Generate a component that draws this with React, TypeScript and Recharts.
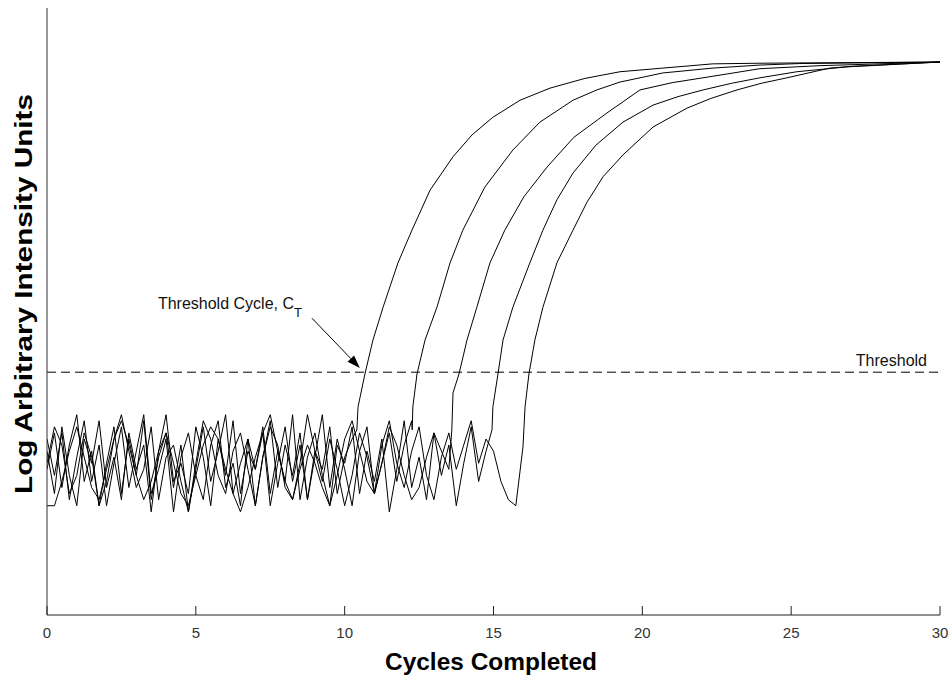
import { LineChart, Line, XAxis, YAxis, ReferenceLine } from "recharts";

// baseline noise is sampled every quarter cycle, then the amplification curve takes over
const NOISE_STEP = 0.25;
const X_TICKS = [0, 5, 10, 15, 20, 25, 30];
const THRESHOLD = 40;

const NOISE_A = [24, 30, 21, 28, 33, 22, 27, 18, 25, 31, 20, 29, 23, 32, 19, 26, 30, 21, 28, 17, 24, 31, 22, 27, 33, 20, 25, 29, 18, 26, 32, 21, 28, 23, 30, 19, 27, 24, 31, 20, 26, 29];
const NOISE_B = [27, 20, 31, 23, 18, 29, 25, 32, 21, 26, 19, 30, 24, 28, 17, 27, 33, 22, 25, 20, 31, 26, 18, 29, 23, 32, 20, 27, 24, 30, 18, 25, 31, 22, 28, 19, 26, 33, 21, 29, 24, 18, 27, 31, 20, 25, 30, 22, 28, 32];
const NOISE_C = [18, 18, 22, 27, 31, 26, 21, 19, 24, 29, 32, 28, 23, 19, 22, 27, 30, 25, 20, 18, 23, 28, 31, 29, 24, 20, 17, 21, 26, 30, 33, 27, 22, 19, 24, 28, 25, 21, 18, 23, 29, 32, 27, 22, 20, 25, 31, 28, 23, 19, 21, 26, 30, 27, 24];
const NOISE_D = [29, 23, 30, 19, 26, 32, 22, 28, 18, 25, 31, 21, 27, 33, 20, 24, 29, 17, 26, 30, 23, 19, 28, 32, 21, 25, 18, 29, 24, 31, 20, 27, 22, 33, 19, 26, 30, 23, 18, 28, 25, 31, 20, 27, 22, 29, 17, 24, 32, 21, 26, 19, 30, 23, 28, 18, 25, 31, 22, 27];
const NOISE_E = [25, 31, 28, 20, 23, 30, 26, 18, 22, 29, 33, 27, 21, 24, 31, 19, 26, 28, 22, 17, 25, 32, 29, 23, 20, 27, 30, 24, 18, 26, 31, 28, 21, 19, 25, 33, 27, 22, 29, 24, 18, 23, 30, 26, 20, 28, 32, 25, 21, 27, 31, 23, 19, 26, 30, 24, 28, 32, 25, 29, 27, 22, 19, 18];

const RISE_A: [number, number][] = [
  [10.41, 30.5], [10.45, 34.3], [10.68, 39.7], [10.95, 45.3], [11.29, 50.7], [11.79, 58.0],
  [12.26, 63.4], [12.87, 70.0], [13.64, 75.5], [14.28, 79.1], [14.98, 82.0], [15.89, 84.8],
  [16.9, 86.8], [18.07, 88.4], [19.25, 89.5], [20.69, 90.1], [22.37, 90.8], [23.88, 90.9],
  [30, 91.1],
];
const RISE_B: [number, number][] = [
  [12.27, 30.5], [12.29, 34.3], [12.43, 39.7], [12.7, 45.3], [13.1, 50.7], [13.54, 58.0],
  [13.97, 63.4], [14.71, 70.5], [15.65, 76.6], [16.56, 81.2], [17.67, 84.8], [18.47, 86.5],
  [19.25, 87.8], [20.69, 89.3], [22.37, 90.1], [23.95, 90.6], [25.29, 90.85], [30, 91.1],
];
const RISE_C: [number, number][] = [
  [13.6, 30.5], [13.64, 36.6], [13.84, 39.7], [14.11, 45.3], [14.44, 50.7], [14.88, 58.0],
  [15.38, 63.4], [16.02, 68.9], [16.8, 73.8], [17.7, 78.7], [18.81, 82.7], [19.92, 86.5],
  [21.0, 87.7], [22.04, 88.5], [23.95, 90.0], [25.97, 90.5], [30, 91.1],
];
const RISE_D: [number, number][] = [
  [14.95, 30.5], [14.98, 34.3], [15.15, 39.7], [15.32, 45.3], [15.65, 50.7], [16.22, 58.0],
  [16.66, 63.4], [17.13, 68.4], [17.67, 72.8], [18.44, 77.4], [19.35, 81.2], [20.36, 84.0],
  [21.2, 85.4], [22.04, 86.5], [23.0, 87.6], [23.95, 88.5], [25.19, 89.5], [26.87, 90.3],
  [30, 91.1],
];
const RISE_E: [number, number][] = [
  [15.99, 27.7], [16.02, 30.5], [16.06, 34.3], [16.19, 39.7], [16.39, 45.3], [16.66, 50.7],
  [17.13, 58.0], [17.67, 63.4], [18.14, 68.0], [18.68, 72.2], [19.35, 75.8], [20.36, 80.4],
  [21.5, 83.5], [22.3, 85.1], [23.18, 86.5], [24.0, 87.6], [24.86, 88.5], [26.3, 90.1],
  [27.07, 90.4], [30, 91.1],
];

const ARROW = [
  { x: 8.9, y: 48.9 },
  { x: 10.51, y: 40.7 },
];

const FONT = "'Liberation Sans', Arial, Helvetica, sans-serif";

const build = (noise: number[], rise: [number, number][]) => [
  ...noise.map((y, i) => ({ x: i * NOISE_STEP, y })),
  ...rise.map(([x, y]) => ({ x, y })),
];

const SERIES = [
  build(NOISE_A, RISE_A),
  build(NOISE_B, RISE_B),
  build(NOISE_C, RISE_C),
  build(NOISE_D, RISE_D),
  build(NOISE_E, RISE_E),
];

const XTick = (p: any) => (
  <g>
    <line x1={p.x} x2={p.x} y1={p.y} y2={p.y - 9} stroke="#222" />
    <text x={p.x} y={p.y + 23} textAnchor="middle" fontSize={15} fill="#333" fontFamily={FONT}>
      {p.payload.value}
    </text>
  </g>
);

const ThresholdShape = (p: any) => (
  <g>
    <line x1={p.x1} y1={p.y1} x2={p.x2} y2={p.y2} stroke="#000" strokeDasharray="9 5" />
    <text x={p.x2 - 13} y={p.y1 - 6} textAnchor="end" fontSize={16} fill="#111" fontFamily={FONT}>
      Threshold
    </text>
  </g>
);

const ArrowShape = (p: any) => {
  const { x1, y1, x2, y2 } = p;
  const a = Math.atan2(y2 - y1, x2 - x1);
  const c = Math.cos(a);
  const s = Math.sin(a);
  const bx = x2 - 13 * c;
  const by = y2 - 13 * s;
  const pts = `${x2},${y2} ${bx - 4.5 * s},${by + 4.5 * c} ${bx + 4.5 * s},${by - 4.5 * c}`;
  return (
    <g>
      <line x1={x1} y1={y1} x2={bx} y2={by} stroke="#000" />
      <polygon points={pts} fill="#000" />
      <text x={x1 - 154} y={y1 - 9} fontSize={16} fill="#111" fontFamily={FONT}>
        Threshold Cycle, C
        <tspan fontSize={13} dy={8}>T</tspan>
      </text>
    </g>
  );
};

const YTitle = (p: any) => {
  const vb = p.viewBox ?? { x: 0, y: 8, height: 607 };
  const cx = vb.x + 32;
  const cy = vb.y + 286;
  return (
    <text
      x={cx}
      y={cy}
      transform={`rotate(-90 ${cx} ${cy})`}
      textAnchor="middle"
      fontSize={24}
      fontWeight="bold"
      fill="#000"
      fontFamily={FONT}
      textLength={400}
      lengthAdjust="spacingAndGlyphs"
    >
      Log Arbitrary Intensity Units
    </text>
  );
};

const XTitle = (p: any) => {
  const vb = p.viewBox ?? { x: 47, y: 615, width: 893 };
  return (
    <text
      x={vb.x + 444}
      y={vb.y + 55}
      textAnchor="middle"
      fontSize={24}
      fontWeight="bold"
      fill="#000"
      fontFamily={FONT}
      textLength={212}
      lengthAdjust="spacingAndGlyphs"
    >
      Cycles Completed
    </text>
  );
};

export default function App() {
  return (
    <div style={{ position: "absolute", left: 0, top: 0, width: 951, height: 677 }}>
      <LineChart width={951} height={677} margin={{ top: 8, right: 11, bottom: 0, left: 0 }}>
        <XAxis
          dataKey="x"
          type="number"
          domain={[0, 30]}
          ticks={X_TICKS}
          allowDataOverflow
          height={62}
          tickSize={0}
          tickMargin={0}
          tickLine={false}
          tick={XTick}
          axisLine={{ stroke: "#222" }}
          label={{ content: XTitle }}
        />
        <YAxis
          type="number"
          domain={[0, 100]}
          width={47}
          tick={false}
          tickLine={false}
          axisLine={{ stroke: "#333" }}
          label={{ content: YTitle }}
        />
        {SERIES.map((d, i) => (
          <Line
            key={i}
            data={d}
            dataKey="y"
            type="linear"
            stroke="#000"
            strokeWidth={1}
            dot={false}
            activeDot={false}
            isAnimationActive={false}
          />
        ))}
        <ReferenceLine y={THRESHOLD} shape={ThresholdShape} />
        <ReferenceLine segment={ARROW} shape={ArrowShape} />
      </LineChart>
    </div>
  );
}
